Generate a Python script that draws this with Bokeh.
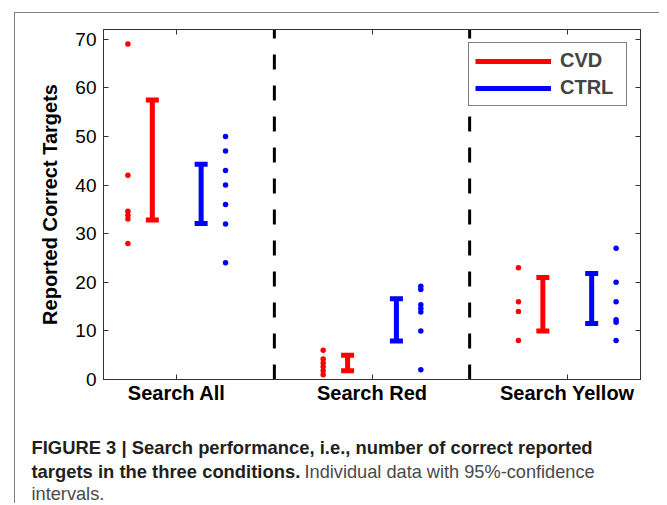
from bokeh.plotting import figure
from bokeh.layouts import column
from bokeh.models import (FixedTicker, LinearAxis, Range1d, Label, Legend,
                          LegendItem)
from bokeh.embed import file_html
from bokeh.resources import INLINE

# ---------------- data ----------------
categories = ["Search All", "Search Red", "Search Yellow"]
y_ticks = [0, 10, 20, 30, 40, 50, 60, 70]
y_max = 72

cvd_individual = [
    [69, 42, 34.6, 33.8, 33, 28],
    [6, 4.2, 3.4, 2.6, 1.8, 1],
    [23, 16, 14, 8],
]
ctrl_individual = [
    [50, 47, 43, 40, 36, 32, 24],
    [19.2, 18.5, 15.4, 14.6, 13.9, 10, 2],
    [27, 20, 16, 12.3, 11.8, 8],
]
cvd_ci_low = [32.8, 1.8, 10.0]
cvd_ci_high = [57.5, 5.0, 21.0]
ctrl_ci_low = [32.1, 7.9, 11.5]
ctrl_ci_high = [44.3, 16.6, 21.8]

series_labels = ["CVD", "CTRL"]

caption_line1 = "FIGURE 3 | Search performance, i.e., number of correct reported"
caption_line2_bold = "targets in the three conditions."
caption_line2_normal = "Individual data with 95%-confidence"
caption_line3 = "intervals."

# ---------------- styling / layout ----------------
RED = "#ff0000"
BLUE = "#0000ff"
AX = "#333333"
FONT = "Liberation Sans"
BORDER = "1px solid #808080"

W = 644
H_PLOT = 397
H_CAP = 93

positions = [i + 1 for i in range(len(categories))]
off_dots_cvd, off_ci_cvd, off_ci_ctrl, off_dots_ctrl = -0.25, -0.125, 0.125, 0.25

p = figure(width=W, height=H_PLOT, output_backend="svg", toolbar_location=None,
           x_range=Range1d(0.625, 3.375), y_range=Range1d(0, y_max),
           min_border_left=88, min_border_right=19, min_border_top=16,
           min_border_bottom=31)
p.frame_align = False
p.grid.visible = False
p.outline_line_color = AX
p.background_fill_color = "white"
p.border_fill_color = "white"

# dashed separators
seps = [(positions[i] + positions[i + 1]) / 2 for i in range(len(positions) - 1)]
p.segment(x0=seps, y0=[0] * len(seps), x1=seps, y1=[y_max] * len(seps),
          line_color="black", line_width=3, line_dash="15 16")

# individual points
def dots(data, off):
    xs, ys = [], []
    for pos, vals in zip(positions, data):
        for v in vals:
            xs.append(pos + off)
            ys.append(v)
    return xs, ys

xr, yr = dots(cvd_individual, off_dots_cvd)
p.scatter(xr, yr, size=5.5, color=RED, line_width=0)
xb, yb = dots(ctrl_individual, off_dots_ctrl)
p.scatter(xb, yb, size=5.5, color=BLUE, line_width=0)

# confidence intervals
def ci(low, high, off, color):
    xs = [pos + off for pos in positions]
    r = p.segment(x0=xs, y0=low, x1=xs, y1=high, line_color=color, line_width=5)
    p.scatter(xs + xs, low + high, marker="dash", size=13, line_width=5,
              line_color=color)
    return r

r_cvd = ci(cvd_ci_low, cvd_ci_high, off_ci_cvd, RED)
r_ctrl = ci(ctrl_ci_low, ctrl_ci_high, off_ci_ctrl, BLUE)

# axes
p.xaxis.ticker = FixedTicker(ticks=positions)
p.xaxis.major_label_overrides = {pos: c for pos, c in zip(positions, categories)}
p.xaxis.major_label_text_font = FONT
p.xaxis.major_label_text_font_style = "bold"
p.xaxis.major_label_text_font_size = "20px"
p.xaxis.major_label_text_color = "black"
p.xaxis.major_label_standoff = 2

p.yaxis.ticker = FixedTicker(ticks=y_ticks)
p.yaxis.major_label_text_font = FONT
p.yaxis.major_label_text_font_size = "19px"
p.yaxis.major_label_text_color = "black"
p.yaxis.major_label_standoff = 7
p.yaxis.axis_label = "Reported Correct Targets"
p.yaxis.axis_label_text_font = FONT
p.yaxis.axis_label_text_font_style = "bold"
p.yaxis.axis_label_text_font_size = "20px"
p.yaxis.axis_label_text_color = "black"
p.yaxis.axis_label_standoff = 11

top_axis = LinearAxis(ticker=FixedTicker(ticks=positions),
                      major_label_overrides={pos: "" for pos in positions},
                      major_label_text_font_size="1px", major_label_standoff=0)
right_axis = LinearAxis(ticker=FixedTicker(ticks=y_ticks),
                        major_label_overrides={t: "" for t in y_ticks},
                        major_label_text_font_size="1px", major_label_standoff=0)
p.add_layout(top_axis, "above")
p.add_layout(right_axis, "right")

for ax in p.axis:
    ax.axis_line_color = AX
    ax.major_tick_line_color = AX
    ax.major_tick_in = 5
    ax.major_tick_out = 0
    ax.minor_tick_line_color = None

# legend
legend = Legend(items=[LegendItem(label=series_labels[0], renderers=[r_cvd]),
                       LegendItem(label=series_labels[1], renderers=[r_ctrl])],
                location="top_right", margin=13, padding=6, spacing=4,
                glyph_width=76, glyph_height=18, label_height=18, label_width=60,
                label_standoff=9, label_text_font=FONT,
                label_text_font_style="bold", label_text_font_size="20px",
                border_line_color="black", border_line_width=1,
                background_fill_color="white", background_fill_alpha=1)
p.add_layout(legend)

# caption figure (pixel coordinates, y downward)
c = figure(width=W, height=H_CAP, output_backend="svg", toolbar_location=None,
           x_range=Range1d(0, W), y_range=Range1d(H_CAP, 0),
           x_axis_type=None, y_axis_type=None,
           min_border_left=0, min_border_right=0, min_border_top=0,
           min_border_bottom=0)
c.frame_align = False
c.grid.visible = False
c.outline_line_color = None
c.background_fill_color = "white"
c.border_fill_color = "white"

cap_bold = "#231f20"
cap_norm = "#4a4a4a"
captions = [
    (caption_line1, 16, 37, "bold", cap_bold, "18.4px"),
    (caption_line2_bold, 16, 61, "bold", cap_bold, "18.4px"),
    (caption_line2_normal, 289, 61, "normal", cap_norm, "18.2px"),
    (caption_line3, 16, 83, "normal", cap_norm, "18.2px"),
]
for txt, cx, cy, style, col, fs in captions:
    c.add_layout(Label(x=cx, y=cy, text=txt,
                       text_font=FONT, text_font_style=style, text_font_size=fs,
                       text_color=col, text_baseline="alphabetic"))

layout = column(p, c, spacing=0, margin=(12, 0, 0, 14),
                styles={"border-top": BORDER, "border-left": BORDER})

open("out.html", "w").write(file_html(layout, INLINE))
